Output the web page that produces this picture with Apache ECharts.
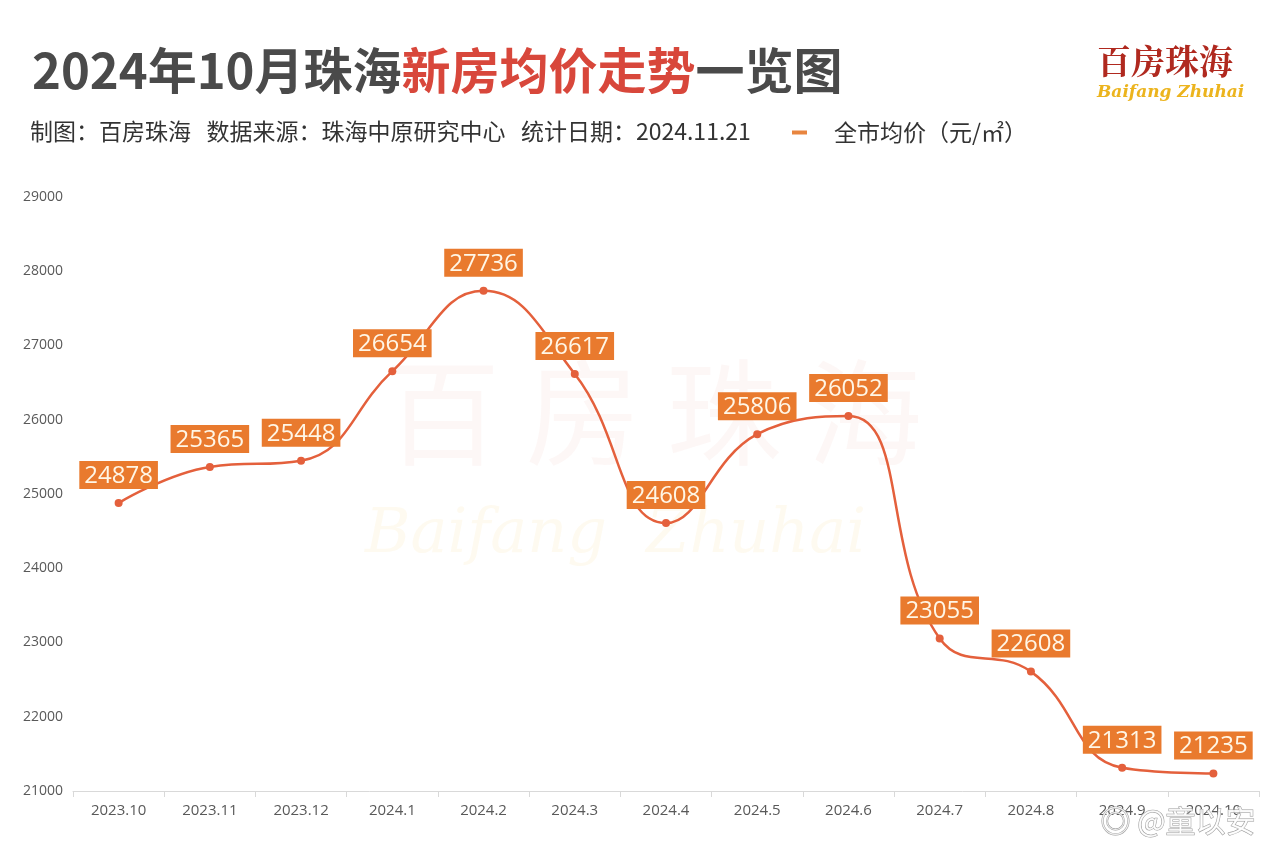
<!DOCTYPE html>
<html>
<head>
<meta charset="utf-8">
<script src="https://cdn.jsdelivr.net/npm/echarts@6/dist/echarts.min.js"></script>
<style>
html,body{margin:0;padding:0;background:#fff;}
#main{width:1280px;height:854px;}
</style>
</head>
<body>
<div id="main"></div>
<script>
const categories = ['2023.10','2023.11','2023.12','2024.1','2024.2','2024.3','2024.4','2024.5','2024.6','2024.7','2024.8','2024.9','2024.10'];
const avgPrice = [24878, 25365, 25448, 26654, 27736, 26617, 24608, 25806, 26052, 23055, 22608, 21313, 21235];
const seriesName = '全市均价（元/㎡）';
const yMin = 21000, yMax = 29000, yStep = 1000;

const chart = echarts.init(document.getElementById('main'), null, {renderer: 'canvas'});
const cjk = '"Noto Sans CJK SC", "Noto Sans", sans-serif';
chart.setOption({
  backgroundColor: '#ffffff',
  animation: false,
  title: [{
    left: 27, top: 41,
    text: '{a|2024年10月珠海}{b|新房均价走势}{a|一览图}',
    textStyle: {
      rich: {
        a: {fontSize: 49, fontWeight: 'bold', color: '#4a4a4a', fontFamily: cjk},
        b: {fontSize: 49, fontWeight: 'bold', color: '#d8473b', fontFamily: cjk}
      }
    }
  }, {
    left: 25, top: 115,
    text: '制图：百房珠海   数据来源：珠海中原研究中心   统计日期：2024.11.21',
    textStyle: {fontSize: 23, fontWeight: 'normal', color: '#333', fontFamily: cjk}
  }],
  legend: {
    left: 787, top: 116,
    icon: 'rect', itemWidth: 15, itemHeight: 4,
    data: [{name: seriesName, itemStyle: {color: '#e8853f'}}],
    textStyle: {fontSize: 23, color: '#333', fontFamily: cjk, padding: [0, 0, 0, 22]}
  },
  graphic: [
    {type: 'text', left: 1097, top: 44, style: {text: '百房珠海', fontSize: 34, fontWeight: 'bold', fill: '#b0291f', fontFamily: '"Noto Serif CJK SC", "Noto Sans CJK SC", serif'}},
    {type: 'text', left: 1097, top: 84, style: {text: 'Baifang Zhuhai', fontSize: 17, fontStyle: 'italic', fontWeight: 'bold', fill: '#ecb41e', fontFamily: '"DejaVu Serif", serif'}},
    {type: 'text', left: 385, top: 355, z: -1, style: {text: '百 房 珠 海', fontSize: 115, fill: 'rgba(225,90,80,0.05)', fontFamily: cjk}},
    {type: 'text', left: 365, top: 505, z: -1, style: {text: 'Baifang  Zhuhai', fontSize: 62, fontStyle: 'italic', fill: 'rgba(236,190,60,0.08)', fontFamily: '"DejaVu Serif", serif'}},
    {type: 'text', left: 1100, top: 805, z: 100, style: {text: '◎ @童以安', fontSize: 30, fill: 'rgba(255,255,255,0.85)', stroke: '#9a9a9a', lineWidth: 1, fontFamily: cjk}}
  ],
  grid: {left: 73, right: 21, top: 197, bottom: 63},
  xAxis: {
    type: 'category',
    data: categories,
    boundaryGap: true,
    axisLine: {lineStyle: {color: '#d9d9d9', width: 1}},
    axisTick: {show: true, length: 6, lineStyle: {color: '#d9d9d9'}},
    axisLabel: {fontSize: 15, color: '#595959', margin: 12, fontFamily: '"Open Sans", "Noto Sans", sans-serif'}
  },
  yAxis: {
    type: 'value',
    min: yMin, max: yMax, interval: yStep,
    axisLine: {show: false},
    axisTick: {show: false},
    splitLine: {show: false},
    axisLabel: {fontSize: 14, color: '#595959', margin: 10, formatter: v => String(v), fontFamily: '"Open Sans", "Noto Sans", sans-serif'}
  },
  series: [{
    name: seriesName,
    type: 'line',
    data: avgPrice,
    smooth: 0.45,
    symbol: 'circle',
    symbolSize: 8,
    lineStyle: {color: '#e4603c', width: 2.5},
    itemStyle: {color: '#e4603c'},
    label: {
      show: true,
      position: 'top',
      distance: 10,
      fontSize: 24,
      color: '#fff6e6',
      backgroundColor: '#e97a2e',
      padding: [3, 5, 1, 5],
      fontFamily: '"Open Sans", "Noto Sans", sans-serif'
    }
  }]
});
</script>
</body>
</html>
